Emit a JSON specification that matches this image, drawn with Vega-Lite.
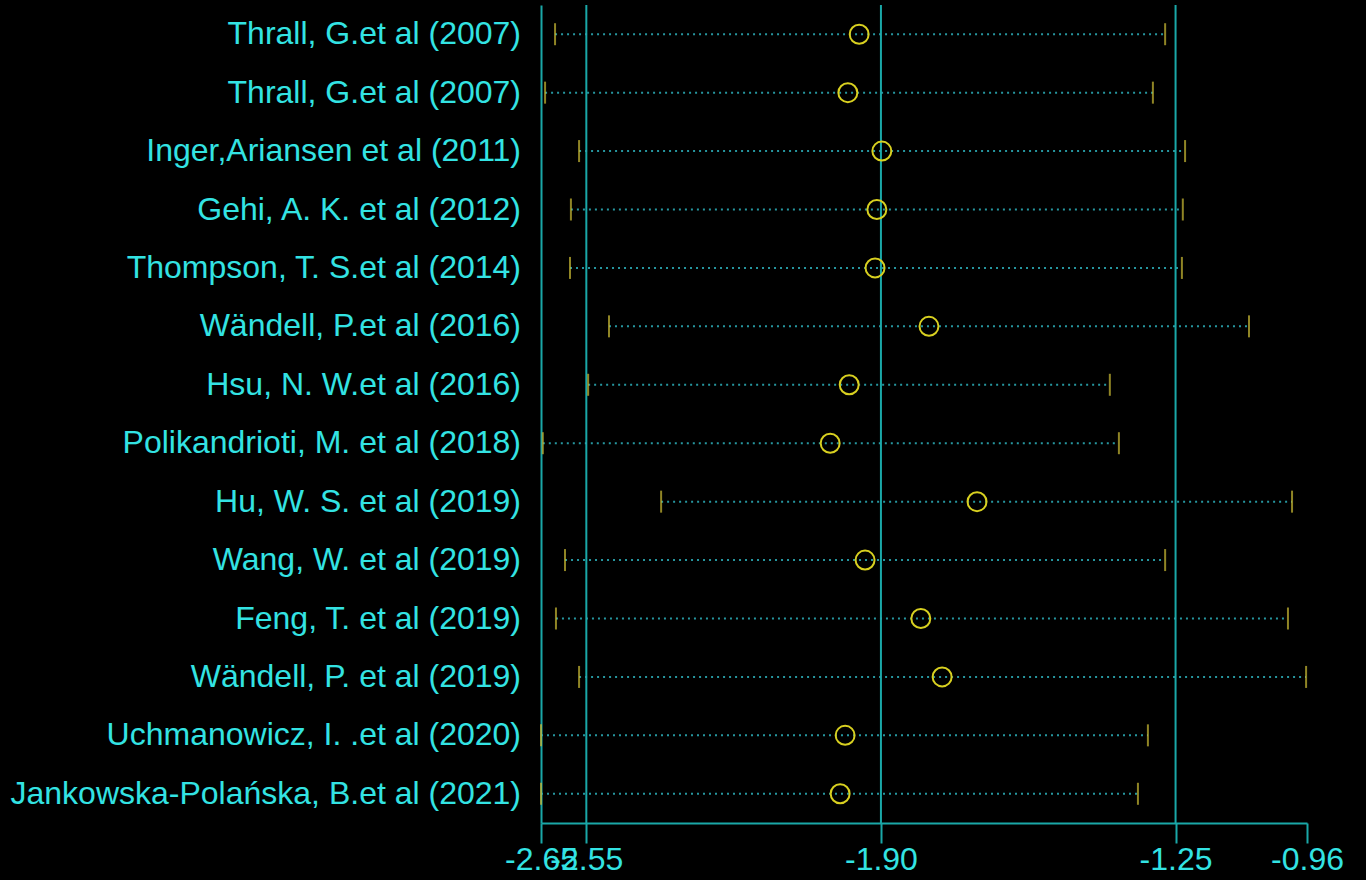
{
  "$schema": "https://vega.github.io/schema/vega-lite/v6.json",
  "width": 766,
  "height": 818,
  "autosize": {"type": "none"},
  "padding": {"left": 541, "top": 5, "right": 59, "bottom": 57},
  "background": "#000000",
  "config": {"view": {"stroke": null}, "font": "Liberation Sans"},
  "data": {
    "values": [
      {"row": "01", "study": "Thrall, G.et al (2007)", "lo": -2.619, "est": -1.948, "hi": -1.273},
      {"row": "02", "study": "Thrall, G.et al (2007)", "lo": -2.641, "est": -1.973, "hi": -1.300},
      {"row": "03", "study": "Inger,Ariansen et al (2011)", "lo": -2.566, "est": -1.898, "hi": -1.229},
      {"row": "04", "study": "Gehi, A. K. et al (2012)", "lo": -2.584, "est": -1.909, "hi": -1.234},
      {"row": "05", "study": "Thompson, T. S.et al (2014)", "lo": -2.586, "est": -1.913, "hi": -1.236},
      {"row": "06", "study": "Wändell, P.et al (2016)", "lo": -2.500, "est": -1.794, "hi": -1.088},
      {"row": "07", "study": "Hsu, N. W.et al (2016)", "lo": -2.546, "est": -1.970, "hi": -1.395},
      {"row": "08", "study": "Polikandrioti, M. et al (2018)", "lo": -2.646, "est": -2.012, "hi": -1.375},
      {"row": "09", "study": "Hu, W. S. et al  (2019)", "lo": -2.385, "est": -1.688, "hi": -0.993},
      {"row": "10", "study": "Wang, W. et al (2019)", "lo": -2.597, "est": -1.935, "hi": -1.273},
      {"row": "11", "study": "Feng, T. et al (2019)", "lo": -2.617, "est": -1.812, "hi": -1.002},
      {"row": "12", "study": "Wändell, P. et al (2019)", "lo": -2.566, "est": -1.765, "hi": -0.962},
      {"row": "13", "study": "Uchmanowicz, I. .et al (2020)", "lo": -2.650, "est": -1.979, "hi": -1.311},
      {"row": "14", "study": "Jankowska-Polańska, B.et al (2021)", "lo": -2.650, "est": -1.990, "hi": -1.333}
    ]
  },
  "layer": [
    {
      "data": {"values": [{"v": -2.55}, {"v": -1.90}, {"v": -1.25}]},
      "mark": {"type": "rule", "color": "#1aa8a8", "strokeWidth": 2},
      "encoding": {
        "x": {
          "field": "v",
          "type": "quantitative",
          "scale": {"domain": [-2.65, -0.96], "nice": false, "zero": false},
          "axis": {
            "values": [-2.65, -2.55, -1.90, -1.25, -0.96],
            "format": ".2f",
            "labelExpr": "replace(datum.label, '\u2212', '-')",
            "labelOverlap": false,
            "labelFlush": false,
            "grid": false,
            "title": null,
            "tickSize": 20,
            "tickWidth": 2,
            "tickColor": "#1aa8a8",
            "domainColor": "#1aa8a8",
            "domainWidth": 2,
            "labelColor": "#33e3e3",
            "labelFontSize": 32,
            "labelPadding": 1,
            "labelFont": "Liberation Sans"
          }
        }
      }
    },
    {
      "mark": {"type": "rule", "color": "#2aa6b0", "strokeWidth": 2, "strokeDash": [2, 4], "opacity": 0.9},
      "encoding": {
        "y": {
          "field": "row",
          "type": "ordinal",
          "scale": {"paddingInner": 0, "paddingOuter": 0},
          "axis": {"labels": false, "ticks": false, "domain": true, "domainColor": "#1aa8a8", "domainWidth": 2, "title": null, "grid": false}
        },
        "x": {"field": "lo", "type": "quantitative"},
        "x2": {"field": "hi"}
      }
    },
    {
      "mark": {"type": "tick", "color": "#cdbd35", "size": 22, "thickness": 2, "orient": "vertical"},
      "encoding": {
        "y": {"field": "row", "type": "ordinal"},
        "x": {"field": "lo", "type": "quantitative"}
      }
    },
    {
      "mark": {"type": "tick", "color": "#cdbd35", "size": 22, "thickness": 2, "orient": "vertical"},
      "encoding": {
        "y": {"field": "row", "type": "ordinal"},
        "x": {"field": "hi", "type": "quantitative"}
      }
    },
    {
      "mark": {"type": "point", "shape": "circle", "filled": false, "size": 360, "strokeWidth": 2, "color": "#d8d020", "opacity": 1},
      "encoding": {
        "y": {"field": "row", "type": "ordinal"},
        "x": {"field": "est", "type": "quantitative"}
      }
    },
    {
      "mark": {"type": "text", "align": "right", "baseline": "middle", "dx": -20, "fontSize": 32, "color": "#33e3e3", "font": "Liberation Sans"},
      "encoding": {
        "y": {"field": "row", "type": "ordinal"},
        "x": {"datum": -2.65, "type": "quantitative"},
        "text": {"field": "study"}
      }
    }
  ]
}
